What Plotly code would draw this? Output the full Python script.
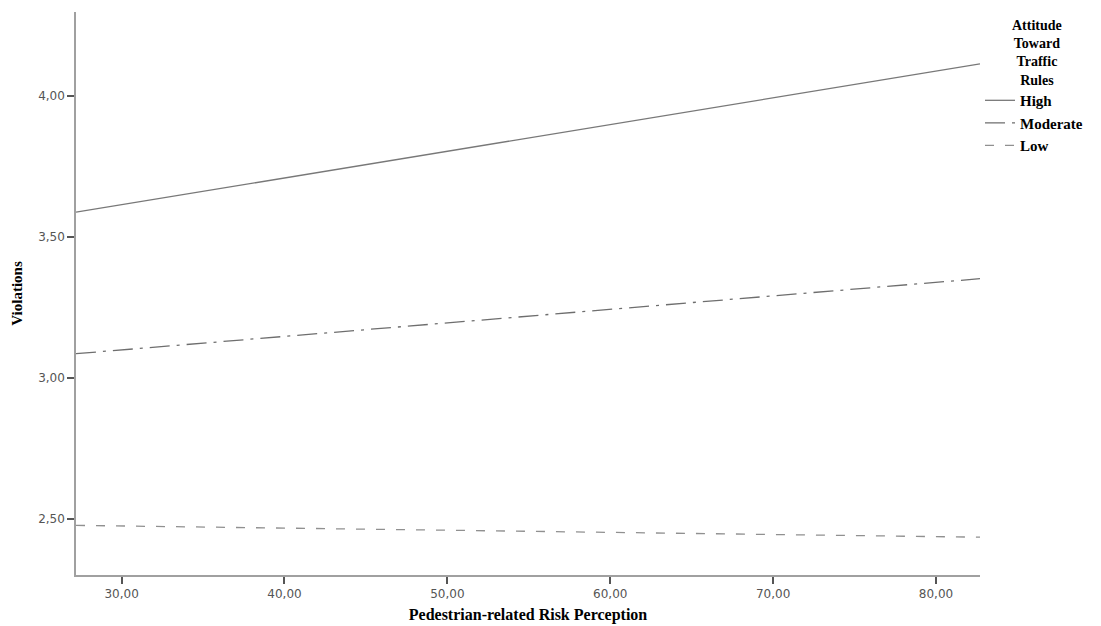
import plotly.graph_objects as go

# Data
risk_perception = [27.2, 82.7]
series_names = ["High", "Moderate", "Low"]
violations_high = [3.589, 4.115]
violations_moderate = [3.087, 3.353]
violations_low = [2.478, 2.436]
x_ticks = [30, 40, 50, 60, 70, 80]
y_ticks = [2.5, 3.0, 3.5, 4.0]

styles = {
    "High": dict(color="#787878", dash="solid"),
    "Moderate": dict(color="#6e6e6e", dash="20px,7px,3px,7px"),
    "Low": dict(color="#909090", dash="9px,11px"),
}
values = {"High": violations_high, "Moderate": violations_moderate, "Low": violations_low}

fig = go.Figure()
for name in series_names:
    fig.add_trace(go.Scatter(
        x=risk_perception, y=values[name], mode="lines", name="<b>" + name + "</b>",
        line=dict(color=styles[name]["color"], dash=styles[name]["dash"], width=1.3),
    ))

serif = "Liberation Serif"
sans = "DejaVu Sans"
fig.update_layout(
    width=1101, height=626,
    margin=dict(l=76, r=121, t=12, b=51),
    plot_bgcolor="white", paper_bgcolor="white",
    separators=",.",
    showlegend=True,
    legend=dict(
        x=1.0, xanchor="left", y=0.872, yanchor="top",
        font=dict(family=serif, size=15, color="black"),
        itemwidth=30, tracegroupgap=0, bgcolor="rgba(0,0,0,0)",
    ),
    annotations=[dict(
        text="<b>Attitude<br>Toward<br>Traffic<br>Rules</b>",
        xref="paper", yref="paper", x=1.063, y=0.993, xanchor="center", yanchor="top",
        align="center", showarrow=False,
        font=dict(family=serif, size=14, color="black"),
    )],
    xaxis=dict(
        range=[risk_perception[0], risk_perception[1]],
        tickvals=x_ticks, tickformat=".2f",
        showgrid=False, zeroline=False, automargin=False,
        showline=True, linecolor="#a0a0a0", linewidth=1.5,
        ticks="outside", ticklen=7, tickcolor="#555555", tickwidth=1.5,
        tickfont=dict(family=sans, size=12, color="#555555"),
        title=dict(text="<b>Pedestrian-related Risk Perception</b>",
                   font=dict(family=serif, size=16, color="black"), standoff=9),
    ),
    yaxis=dict(
        range=[2.302, 4.299],
        tickvals=y_ticks, tickformat=".2f",
        showgrid=False, zeroline=False, automargin=False,
        showline=True, linecolor="#a0a0a0", linewidth=1.5,
        ticks="outside", ticklen=7, tickcolor="#555555", tickwidth=1.5,
        tickfont=dict(family=sans, size=12, color="#555555"),
        title=dict(text="<b>Violations</b>",
                   font=dict(family=serif, size=15, color="black"), standoff=12),
    ),
)

fig.write_html("out.html")
